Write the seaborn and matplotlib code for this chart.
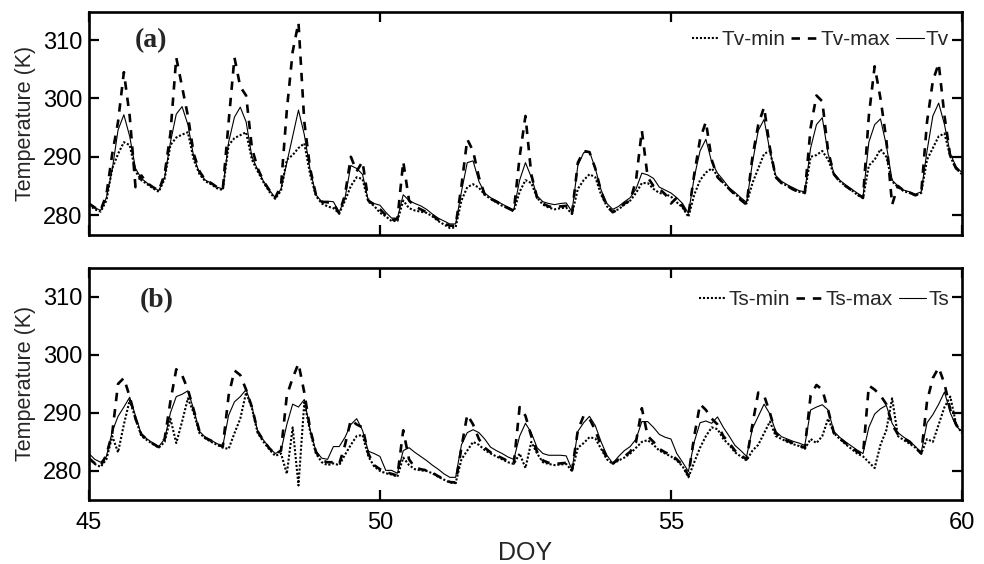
import numpy as np
import pandas as pd
import matplotlib
matplotlib.use("Agg")
import matplotlib.pyplot as plt
import seaborn as sns

# ---------------- data (0.1-day spacing) ----------------
doy = np.round(np.arange(45.0, 60.0001, 0.1), 1)

tv = [282.0, 281.3, 280.8, 283.0, 287.8, 294.6, 297.2, 293.5, 288.0, 286.3,
      285.5, 284.8, 284.2, 286.5, 292.5, 297.3, 298.6, 295.5, 290.0, 287.2,
      286.0, 285.5, 284.8, 284.5, 292.5, 296.8, 298.5, 296.0, 290.0, 287.8,
      285.8, 284.3, 283.0, 284.5, 289.0, 293.5, 298.0, 293.8, 287.8, 283.5,
      282.3, 282.4, 282.3, 280.5, 283.0, 288.5, 288.0, 287.0, 282.5, 282.0,
      281.7, 280.5, 279.5, 279.5, 283.5, 282.5, 282.0, 281.6, 281.0, 280.2,
      279.5, 279.0, 278.5, 278.5, 284.0, 289.0, 289.3, 285.8, 283.8, 283.0,
      282.5, 281.9, 281.4, 280.9, 286.0, 289.0, 286.5, 283.3, 282.3, 282.0,
      281.8, 282.0, 282.1, 280.6, 288.5, 290.7, 290.9, 288.0, 284.3, 282.0,
      281.0, 281.5, 282.3, 283.0, 284.5, 287.2, 286.9, 286.3, 284.8, 284.3,
      283.8, 283.0, 282.0, 280.3, 286.5, 291.0, 293.0, 289.1, 287.2, 286.0,
      284.7, 283.9, 283.0, 282.2, 289.0, 294.5, 296.4, 291.0, 286.8, 285.8,
      285.2, 284.7, 284.2, 284.0, 291.5, 295.5, 296.7, 290.5, 287.2, 286.0,
      285.2, 284.5, 283.8, 283.1, 292.5, 295.5, 296.5, 292.0, 286.0, 285.0,
      284.3, 284.0, 283.6, 284.0, 291.0, 297.0, 299.2, 295.5, 290.5, 288.3,
      287.3]

tv_min = [281.8, 281.0, 280.6, 282.5, 288.0, 290.5, 292.5, 292.0, 287.5, 286.0,
          285.3, 284.6, 284.0, 286.2, 292.0, 293.3, 293.8, 294.2, 289.5, 287.0,
          285.8, 285.3, 284.6, 284.3, 292.0, 293.2, 293.7, 294.2, 289.5, 287.5,
          285.6, 284.0, 282.8, 284.2, 289.5, 290.3, 291.5, 292.3, 287.0, 283.3,
          282.0, 281.5, 281.2, 280.3, 282.5, 285.0, 286.5, 286.2, 282.3, 281.6,
          280.4, 279.8, 279.0, 279.0, 282.5, 281.2, 280.8, 280.6, 280.4, 279.8,
          279.0, 278.4, 277.8, 277.9, 282.5, 284.8, 285.3, 284.7, 283.5, 282.8,
          282.2, 281.6, 281.2, 280.7, 284.0, 286.0, 285.5, 283.0, 281.8, 281.3,
          281.0, 281.2, 281.3, 280.2, 284.5, 286.0, 287.0, 286.5, 283.5, 281.5,
          280.7, 281.0, 281.8, 282.5, 283.8, 285.5, 285.5, 284.5, 283.8, 283.6,
          283.2, 282.2, 281.3, 279.7, 283.5, 286.0, 287.3, 288.0, 286.8, 285.5,
          284.5, 283.6, 282.8, 282.0, 285.5, 288.0, 290.5, 291.0, 286.5, 285.5,
          285.0, 284.4, 284.0, 283.8, 290.0, 290.3, 291.0, 289.5, 287.0, 285.8,
          285.0, 284.3, 283.5, 282.9, 288.5, 289.5, 291.3, 290.0, 285.8, 284.8,
          284.1, 283.8, 283.4, 283.8, 289.5, 291.5, 293.5, 294.0, 290.0, 288.0,
          287.0]

tv_max = [282.0, 281.3, 280.8, 283.5, 290.5, 296.0, 304.5, 297.0, 284.8, 286.8,
          285.5, 284.8, 284.2, 287.0, 294.0, 307.0, 302.0, 297.0, 290.5, 287.5,
          286.0, 285.5, 284.8, 284.5, 296.0, 307.0, 302.0, 300.5, 291.5, 288.0,
          285.8, 284.3, 283.0, 285.0, 298.0, 308.0, 313.0, 296.0, 288.0, 283.5,
          282.3, 282.2, 282.0, 280.3, 283.5, 290.0, 287.5, 289.2, 282.5, 281.8,
          281.0, 280.0, 279.2, 279.3, 289.2, 282.5, 281.5, 281.0, 280.5, 280.0,
          279.2, 278.6, 278.2, 278.2, 285.0, 293.0, 291.0, 286.5, 283.5, 282.8,
          282.3, 281.7, 281.2, 280.7, 290.0, 297.0, 287.0, 283.0, 282.0, 281.5,
          281.3, 281.5, 281.6, 280.3, 289.0, 291.0, 290.8, 288.0, 284.0, 281.5,
          280.5, 281.0, 282.0, 282.5, 286.0, 294.5, 286.5, 285.0, 284.5, 283.6,
          282.0, 283.0, 281.5, 280.0, 287.0, 293.0, 296.0, 289.5, 286.5, 285.5,
          284.5, 283.5, 282.6, 281.8, 290.0, 295.5, 298.5, 291.5, 286.5, 285.5,
          285.0, 284.4, 284.0, 283.8, 295.0, 300.5, 299.5, 291.0, 287.0, 285.8,
          285.0, 284.3, 283.6, 283.0, 297.0, 305.5, 300.0, 293.0, 281.8, 285.0,
          284.2, 283.9, 283.4, 283.8, 296.0, 303.0, 306.0, 297.0, 290.0, 288.0,
          287.2]

ts = [283.0, 282.0, 281.5, 282.5, 286.8, 289.4, 291.0, 292.7, 289.5, 286.3,
      285.5, 284.8, 284.2, 285.5, 290.0, 292.8, 293.2, 293.8, 290.6, 286.8,
      285.8, 285.3, 284.7, 284.3, 289.6, 291.9, 292.8, 294.0, 291.1, 286.8,
      285.3, 284.0, 283.0, 283.5, 288.0, 291.5, 291.0, 292.3, 287.1, 283.4,
      282.2, 282.0, 284.2, 284.2, 285.8, 288.0, 289.0, 287.0, 283.4, 283.0,
      282.5, 280.1, 280.1, 279.6, 283.5, 284.0, 283.2, 282.5, 281.8, 281.0,
      280.3, 279.5, 278.9, 278.9, 284.5, 286.6, 287.1, 286.6, 285.5, 284.1,
      283.5, 283.0, 282.4, 282.0, 286.0, 288.2, 286.6, 284.0, 283.0, 282.7,
      282.7, 282.7, 282.6, 280.2, 286.8, 288.3, 289.4, 287.8, 285.0, 282.7,
      281.3, 282.5, 283.5, 284.2, 285.5, 288.5, 288.5, 287.5, 286.3, 285.8,
      285.5, 283.0, 281.5, 279.9, 285.0, 288.3, 288.6, 288.2, 289.3, 287.5,
      286.0, 284.4, 283.5, 282.5, 287.3, 289.4, 291.5, 289.8, 286.8, 285.9,
      285.5, 285.1, 284.8, 284.4, 290.5, 291.0, 291.4, 290.5, 286.8, 285.8,
      285.0, 284.3, 283.6, 283.0, 287.5, 289.8, 290.7, 291.3, 288.2, 286.6,
      285.8, 285.2, 284.2, 283.2, 288.3, 289.7, 291.5, 293.6, 290.0, 287.7,
      286.8]

ts_min = [282.2, 281.2, 280.7, 282.0, 286.0, 283.2, 288.0, 292.2, 289.0, 286.0,
          285.3, 284.6, 284.0, 285.0, 289.0, 284.8, 288.5, 292.5, 290.0, 286.5,
          285.6, 285.0, 284.5, 284.0, 283.8, 286.5, 289.0, 293.5, 290.8, 286.5,
          285.0, 283.7, 282.6, 283.0, 279.5, 287.5, 277.5, 291.8, 286.8, 283.0,
          281.5, 281.0, 281.3, 281.0, 282.8, 284.5, 286.0, 286.2, 282.5, 280.8,
          280.0, 279.6, 279.4, 279.0, 282.3, 281.0, 280.3, 280.1, 280.0, 279.6,
          279.0, 278.5, 278.0, 277.9, 282.0, 283.5, 285.0, 284.5, 283.6, 283.0,
          282.5, 282.0, 281.5, 281.2, 283.0, 280.5, 285.0, 283.0, 281.5, 281.2,
          281.0, 281.1, 281.2, 280.0, 284.0, 284.8, 285.8, 285.6, 283.8, 282.0,
          281.2, 281.8, 282.3, 283.0, 284.0, 285.0, 285.3, 284.5, 283.5, 283.0,
          282.5, 281.8, 280.8, 278.9, 281.5, 284.0, 286.0, 287.5, 287.2, 285.5,
          284.5, 283.2, 282.5, 281.8, 283.5, 284.5, 286.5, 288.5, 286.0, 285.5,
          285.0, 284.6, 284.3, 283.8, 285.5, 284.8, 286.0, 289.0, 286.5, 285.5,
          284.6, 283.8, 283.0, 282.5, 281.5, 280.5, 284.5, 287.0, 292.5, 286.0,
          285.3, 284.7, 284.0, 283.0, 285.5, 285.0, 288.0, 291.0, 292.8, 288.0,
          286.5]

ts_max = [282.2, 281.3, 280.8, 282.8, 286.5, 295.0, 296.0, 292.8, 289.0, 286.3,
          285.4, 284.7, 284.1, 285.5, 292.0, 297.5, 296.5, 294.0, 290.5, 286.8,
          285.7, 285.2, 284.6, 284.2, 293.0, 297.3, 296.5, 294.0, 291.0, 286.8,
          285.2, 283.9, 282.9, 283.5, 293.0, 296.0, 298.5, 293.5, 287.2, 283.3,
          281.8, 281.5, 281.5, 281.2, 284.5, 288.8, 288.0, 287.5, 283.0, 281.0,
          280.3, 279.8, 279.5, 279.2, 287.0, 282.0, 280.6, 280.3, 280.1, 279.7,
          279.1, 278.6, 278.1, 278.0, 284.0, 289.7, 288.0, 285.5, 284.0, 283.2,
          282.7, 282.2, 281.7, 281.3, 291.0, 289.5, 286.0, 283.3, 281.8, 281.4,
          281.2, 281.3, 281.4, 280.1, 287.0, 289.5, 289.0, 287.0, 284.3, 282.2,
          281.3, 282.0, 282.5, 283.3, 285.0, 290.8, 286.0, 285.0, 283.8, 283.2,
          282.8, 282.0, 281.0, 279.2, 286.0, 291.5, 290.5, 289.0, 288.0, 286.0,
          284.8, 283.5, 282.7, 282.0, 288.0, 293.5, 293.0, 290.0, 286.5, 285.6,
          285.2, 284.8, 284.4, 284.0, 293.0, 294.8, 294.0, 290.5, 286.5, 285.6,
          284.8, 284.1, 283.3, 282.8, 294.7, 294.0, 293.0, 291.5, 288.0, 286.3,
          285.5, 285.0, 284.0, 283.0, 292.0, 296.0, 297.8, 295.0, 290.5, 288.0,
          286.8]

xticks = [45, 50, 55, 60]
yticks = [280, 290, 300, 310]

# ---------------- styling ----------------
sns.set_style("ticks")
plt.rcParams["font.family"] = ["Liberation Sans", "DejaVu Sans"]

fig = plt.figure(figsize=(9.84, 5.64), dpi=100)
ax_a = fig.add_axes([0.0904, 0.5833, 0.8872, 0.3954])
ax_b = fig.add_axes([0.0904, 0.1135, 0.8872, 0.4119])

DOT = (0, (1.0, 0.9))
DASH = (0, (3.2, 3.0))

def draw(ax, lo, hi, mid, names, ylim, tag, tag_y):
    df = pd.DataFrame({"doy": doy, "lo": lo, "hi": hi, "mid": mid})
    sns.lineplot(data=df, x="doy", y="lo", ax=ax, color="black", linewidth=1.5,
                 linestyle=DOT, label=names[0], estimator=None, sort=False)
    sns.lineplot(data=df, x="doy", y="hi", ax=ax, color="black", linewidth=1.9,
                 linestyle=DASH, label=names[1], estimator=None, sort=False)
    sns.lineplot(data=df, x="doy", y="mid", ax=ax, color="black", linewidth=0.8,
                 linestyle="-", label=names[2], estimator=None, sort=False)
    ax.set_xlim(45, 60)
    ax.set_ylim(*ylim)
    ax.set_xticks(xticks)
    ax.set_yticks(yticks)
    ax.tick_params(direction="in", length=7, width=1.6, top=True, right=True,
                   labelsize=17, pad=5, color="black", labelcolor="black")
    ax.tick_params(axis="x", pad=9)
    for s in ax.spines.values():
        s.set_linewidth(1.9)
        s.set_color("black")
    ax.set_ylabel("Temperature (K)", fontsize=15.5)
    ax.yaxis.set_label_coords(-0.061, 0.5)
    ax.text(tag[0], tag_y, tag[1], transform=ax.transAxes, fontsize=20,
            fontweight="bold", family=["Liberation Serif", "DejaVu Serif"],
            va="center", ha="left")
    leg = ax.legend(loc="center right", bbox_to_anchor=(0.985, tag_y + 0.005),
                    ncol=3, frameon=False, fontsize=15, handlelength=1.3,
                    handletextpad=0.1, columnspacing=0.3, borderpad=0,
                    borderaxespad=0)
    for h in leg.get_lines():
        h.set_color("black")

draw(ax_a, tv_min, tv_max, tv, ["Tv-min", "Tv-max", "Tv"], (276.6, 314.8),
     (0.052, "(a)"), 0.872)
draw(ax_b, ts_min, ts_max, ts, ["Ts-min", "Ts-max", "Ts"], (275.0, 315.0),
     (0.058, "(b)"), 0.858)

ax_a.set_xticklabels([])
ax_a.set_xlabel("")
ax_b.set_xlabel("DOY", fontsize=18, labelpad=5)

fig.savefig("out.png", dpi=100)
